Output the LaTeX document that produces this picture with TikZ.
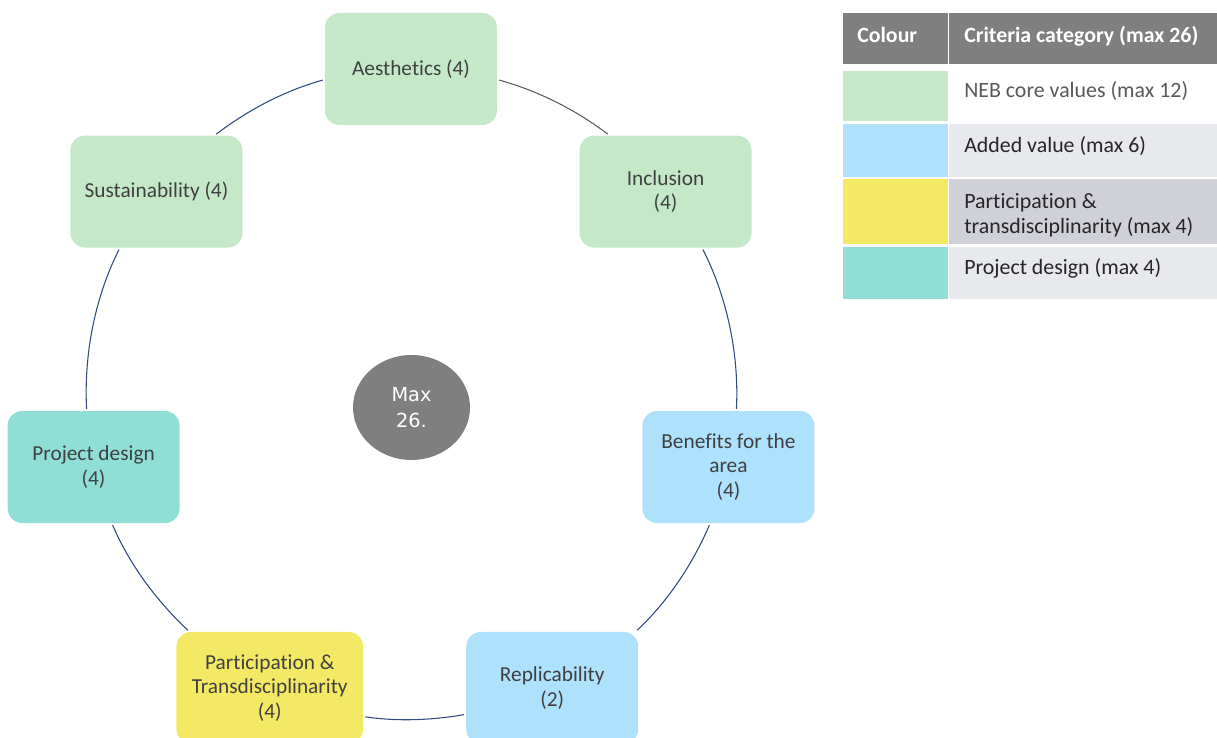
\documentclass[tikz,border=0pt]{standalone}
\usepackage{fontspec}
\setmainfont{Carlito}[Ligatures=NoCommon]
\newfontfamily\maxfont{DejaVu Sans}
\usetikzlibrary{calc,shapes.geometric}

\definecolor{nebgreen}{HTML}{C5E8C9}
\definecolor{addblue}{HTML}{ADE1FC}
\definecolor{partyellow}{HTML}{F4E965}
\definecolor{designteal}{HTML}{8FDFD7}
\definecolor{headgray}{HTML}{7F7F7F}
\definecolor{rowlight}{HTML}{E8E9ED}
\definecolor{rowdark}{HTML}{CFD0D8}
\definecolor{boxtext}{HTML}{404040}
\definecolor{ringline}{HTML}{2E4C82}

\tikzset{
  crit/.style={rectangle, rounded corners=11pt, fill=#1, minimum width=129pt, minimum height=84pt,
    align=center, text=boxtext, font=\fontsize{16}{18.5}\selectfont},
  ring/.style={draw=ringline, line width=0.8pt, shorten >=1.5pt, shorten <=1.5pt, looseness=0.86},
  cell/.style={rectangle, inner sep=0pt, anchor=north west, fill=#1},
  celltext/.style={anchor=base west, inner sep=0pt, text=black!85, align=left,
    font=\fontsize{16.4}{19}\selectfont},
}

\begin{document}
\begin{tikzpicture}[x=0.75pt, y=0.75pt]
\useasboundingbox (0,0) rectangle (1217,738);
\coordinate (c) at (411,343.4);
\def\rad{325.6}

% criteria round the circle
\node[crit=nebgreen] (aes) at ($(c)+(90:\rad)$) {Aesthetics (4)};
\node[crit=nebgreen] (inc) at ($(c)+(38.57:\rad)$) {Inclusion\\(4)};
\node[crit=addblue] (ben) at ($(c)+(-12.86:\rad)$) {Benefits for the\\area\\(4)};
\node[crit=addblue] (rep) at ($(c)+(-64.29:\rad)$) {Replicability\\(2)};
\node[crit=partyellow, minimum width=140pt] (par) at ($(c)+(-115.71:\rad)$) {Participation \&\\Transdisciplinarity\\(4)};
\node[crit=designteal] (pro) at ($(c)+(-167.14:\rad)$) {Project design\\(4)};
\node[crit=nebgreen] (sus) at ($(c)+(141.43:\rad)$) {Sustainability (4)};

\node[ellipse, fill=headgray, minimum width=87.75pt, minimum height=78.75pt, inner sep=0pt,
  text=white, align=center, font=\maxfont\fontsize{14.5}{20}\selectfont] (max) at (411.5,330.5) {Max\\26.};

% ring arcs, leaving and entering each box where the circle crosses it
\draw[ring, draw=black!65] (aes.-7.68) to[out=-15.3, in=142.7] (inc.135.66);
\foreach \a/\sa/\b/\eb/\o/\i in {inc/-57.33/ben/82.07/-63.16/87.11,
    ben/-108/rep/34.49/-113.22/43.19, rep/197.73/par/-17.04/-170.22/-8.48,
    par/145.51/pro/-72/136.81/-66.78, pro/97.93/sus/237.33/92.89/243.16,
    sus/44.34/aes/187.68/37.3/195.3}
  \draw[ring] (\a.\sa) to[out=\o, in=\i] (\b.\eb);

% legend table
\node[cell=headgray, minimum width=78.75pt, minimum height=38.25pt] (hcol) at (843,725) {};
\node[cell=headgray, minimum width=201pt, minimum height=38.25pt] (hcat) at (949,725) {};
\node[cell=nebgreen, minimum width=78.75pt, minimum height=37.5pt] (c1) at (843,667.3) {};
\node[cell=white, minimum width=201pt, minimum height=37.5pt] (t1) at (949,667.3) {};
\node[cell=addblue, minimum width=78.75pt, minimum height=39.5pt] (c2) at (843,614) {};
\node[cell=rowlight, minimum width=201pt, minimum height=39.5pt] (t2) at (949,614) {};
\node[cell=partyellow, minimum width=78.75pt, minimum height=48.75pt] (c3) at (843,559) {};
\node[cell=rowdark, minimum width=201pt, minimum height=48.75pt] (t3) at (949,559) {};
\node[cell=designteal, minimum width=78.75pt, minimum height=39.25pt] (c4) at (843,491.3) {};
\node[cell=rowlight, minimum width=201pt, minimum height=39.25pt] (t4) at (949,491.3) {};

\node[celltext, text=white, font=\fontsize{16.4}{19}\selectfont\bfseries] (hcoltxt) at (857,695) {Colour};
\node[celltext, text=white, font=\fontsize{16.4}{19}\selectfont\bfseries] (hcattxt) at (964,695) {Criteria category (max 26)};
\node[celltext, text=black!65] (t1txt) at (964,640) {NEB core values (max 12)};
\node[celltext] (t2txt) at (964,585) {Added value (max 6)};
\node[celltext] (t3txt) at (964,504.5) {Participation \&\\transdisciplinarity (max 4)};
\node[celltext] (t4txt) at (964,463) {Project design (max 4)};
\end{tikzpicture}
\end{document}
